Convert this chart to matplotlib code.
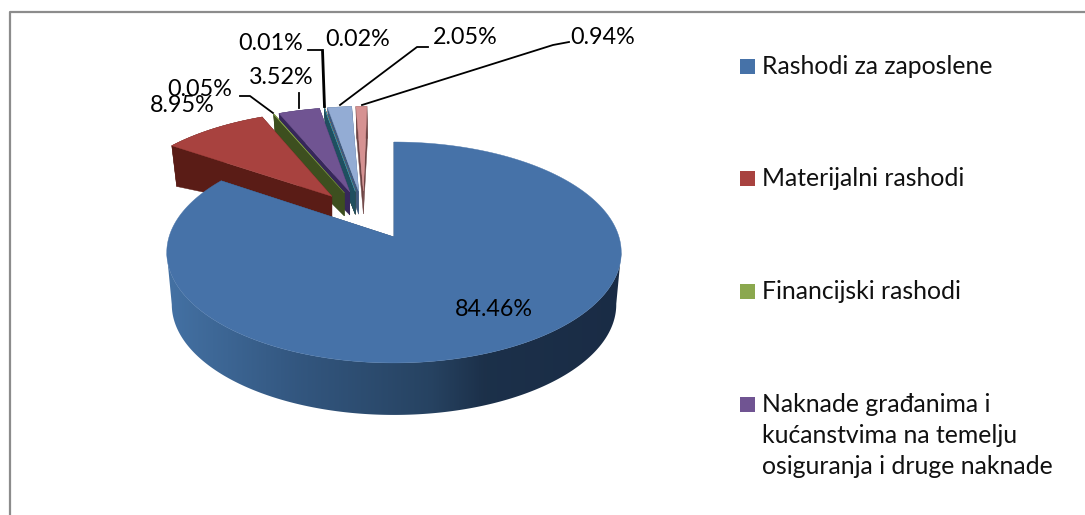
import numpy as np
import matplotlib
matplotlib.use("Agg")
import matplotlib.pyplot as plt
from matplotlib.colors import LinearSegmentedColormap
from matplotlib.patches import Polygon

plt.rcParams["font.family"] = ["Lato", "DejaVu Sans"]

# data
shares = [84.46, 8.95, 0.05, 3.52, 0.01, 0.02, 2.05, 0.94]
share_labels = ["84.46%", "8.95%", "0.05%", "3.52%", "0.01%", "0.02%", "2.05%", "0.94%"]
legend_labels = ["Rashodi za zaposlene", "Materijalni rashodi", "Financijski rashodi",
                 "Naknade građanima i\nkućanstvima na temelju\nosiguranja i druge naknade"]

# styles
top_colors = ["#4672A8", "#A8423F", "#8BA84E", "#705492", "#3F8FA6", "#D9853A", "#93ACD4", "#D69292"]
wall_colors = ["#2C4A6E", "#5A1C16", "#3D4F1F", "#36275A", "#1F4F60", "#7A4A1A", "#3F5A7E", "#6E4444"]
legend_colors = ["#4672A8", "#A8423F", "#8BA84E", "#705492"]
legend_y = [66, 178, 291, 404]

label_pos = [(494, 310), (182, 105), (200, 90), (281, 77), (271, 43), (358, 40), (465, 38), (603, 38)]
leaders = [None, None,
           [(240, 96), (250, 96), (273, 113)],
           [(299, 93), (299, 108)],
           [(308, 50), (322, 50), (324, 107)],
           [(323, 50), (325, 107)],
           [(428, 47), (417, 47), (340, 105)],
           [(569, 42), (553, 45), (362, 105)]]

CX, CY = 394, 237     # apex of the big slice in pixels
EXPLODE = 0.24
SMALL_SHIFT = -0.025  # the exploded group sits a little further left

wall_cmap = LinearSegmentedColormap.from_list("wall", [
    (0.0, (0.27, 0.45, 0.65)), (0.29, (0.20, 0.34, 0.50)), (0.58, (0.15, 0.26, 0.38)),
    (0.69, (0.11, 0.19, 0.29)), (1.0, (0.10, 0.17, 0.27))])


def project(u, v):
    # circle coords to pixels, with a bit of perspective
    w = 1 + 0.14 * v
    return CX + 225 * u / w, CY - 108.3 * v / w


def extrude(px, py, r, v_local):
    depth = 23 + r * (29 - 20 * np.maximum(v_local, 0))
    return 395 + (px - 395) * (1 - 0.022 * r), py + depth


fig = plt.figure(figsize=(10.85, 5.15), dpi=100)
ax = fig.add_axes([0, 0, 1, 1])
ax.set_xlim(0, 1085)
ax.set_ylim(515, 0)
ax.axis("off")

# outer frame, only left and top are in the crop
ax.plot([10, 10, 1085], [515, 12, 12], color="#8C8C8C", lw=1.6)

edges = np.cumsum([0] + shares) / 100 * 2 * np.pi
blue_mid = (edges[0] + edges[1]) / 2
base_u = -EXPLODE * np.sin(blue_mid)
base_v = -EXPLODE * np.cos(blue_mid)

# back to front: the small slices first, big blue one last
order = 2
for i in [7, 6, 5, 4, 3, 2, 1, 0]:
    a0, a1 = edges[i], edges[i + 1]
    mid = (a0 + a1) / 2
    au = base_u + EXPLODE * np.sin(mid) + (SMALL_SHIFT if i > 0 else 0)
    av = base_v + EXPLODE * np.cos(mid)
    t = np.linspace(a0, a1, max(3, int((a1 - a0) * 90)))
    ru = au + np.sin(t)
    rv = av + np.cos(t)
    rx, ry = project(ru, rv)
    ax_, ay_ = project(au, av)
    bx, by = extrude(rx, ry, 1.0, np.cos(t))
    abx, aby = extrude(np.array(ax_), np.array(ay_), 0.0, np.array(0.0))

    # outer wall
    if i == 0:
        # between the widest points of the ellipse, those ends are the silhouette
        lo, hi = np.argmax(rx), np.argmin(rx)
        wall_x = np.r_[rx[lo:hi + 1], bx[lo:hi + 1][::-1]]
        wall_y = np.r_[ry[lo:hi + 1], by[lo:hi + 1][::-1]]
        poly = Polygon(np.c_[wall_x, wall_y], closed=True, facecolor="none", edgecolor="none",
                       transform=ax.transData, zorder=order)
        ax.add_patch(poly)
        grad = np.linspace(0, 1, 256).reshape(1, -1)
        im = ax.imshow(grad, cmap=wall_cmap, extent=(160, 630, 480, 130), aspect="auto", zorder=order)
        im.set_clip_path(poly)
        ax.set_xlim(0, 1085)
        ax.set_ylim(515, 0)
    else:
        ax.fill(np.r_[rx, bx[::-1]], np.r_[ry, by[::-1]], color=wall_colors[i], lw=0.3, zorder=order)
    order += 1
    # cut faces
    ax.fill([ax_, rx[-1], bx[-1], abx], [ay_, ry[-1], by[-1], aby], color=wall_colors[i], lw=0.3, zorder=order)
    ax.fill([ax_, rx[0], bx[0], abx], [ay_, ry[0], by[0], aby], color=wall_colors[i], lw=0.3, zorder=order)
    order += 1
    # top face
    ax.fill(np.r_[ax_, rx], np.r_[ay_, ry], color=top_colors[i], lw=0.3, zorder=order)
    order += 1

for (x, y), lab in zip(label_pos, share_labels):
    ax.text(x, y, lab, ha="center", va="center", fontsize=16.8, color="black", zorder=40)
for pts in leaders:
    if pts:
        ax.plot([p[0] for p in pts], [p[1] for p in pts], color="black", lw=1.3, zorder=39)

for y, lab, col in zip(legend_y, legend_labels, legend_colors):
    ax.fill([740, 755, 755, 740], [y - 7, y - 7, y + 8, y + 8], color=col, lw=0)
    ax.text(762, y - 11, lab, ha="left", va="top", fontsize=17.8, color="#111111", linespacing=1.42)

fig.savefig("out.png", dpi=100)
